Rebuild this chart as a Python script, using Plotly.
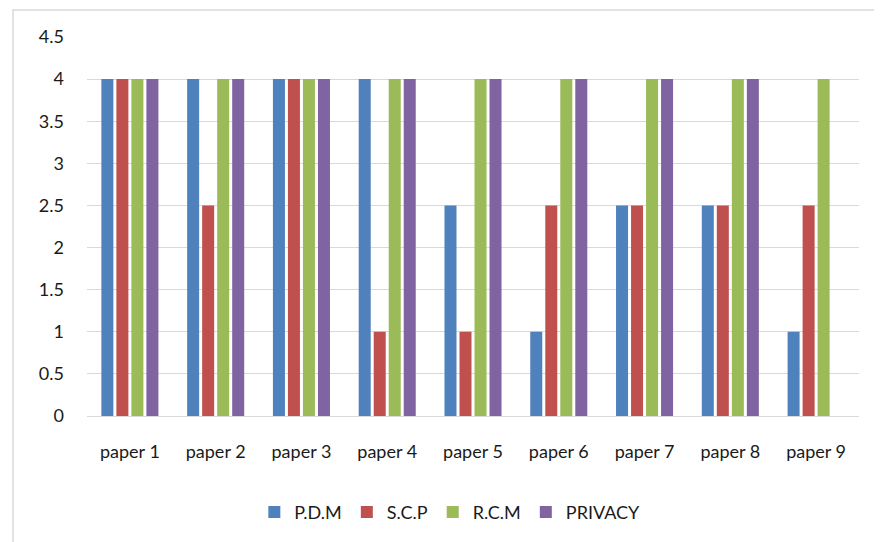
import plotly.graph_objects as go

categories = ["paper 1", "paper 2", "paper 3", "paper 4", "paper 5",
              "paper 6", "paper 7", "paper 8", "paper 9"]
pdm = [4, 4, 4, 4, 2.5, 1, 2.5, 2.5, 1]
scp = [4, 2.5, 4, 1, 1, 2.5, 2.5, 2.5, 2.5]
rcm = [4, 4, 4, 4, 4, 4, 4, 4, 4]
privacy = [4, 4, 4, 4, 4, 4, 4, 4, None]

series = [("P.D.M", pdm, "#4F81BD"), ("S.C.P", scp, "#C0504D"),
          ("R.C.M", rcm, "#9BBB59"), ("PRIVACY", privacy, "#8064A2")]

fig = go.Figure()
for name, vals, color in series:
    fig.add_trace(go.Bar(x=categories, y=vals, name=name, marker_color=color,
                         marker_line_width=0))

font = "Lato, 'Open Sans', sans-serif"
fig.update_layout(
    width=882, height=542,
    margin=dict(l=79, r=31, t=29, b=134),
    paper_bgcolor="white", plot_bgcolor="white",
    barmode="group", bargap=0.30, bargroupgap=0.2,
    font=dict(family=font, size=18, color="#1a1a1a"),
    xaxis=dict(showgrid=False, showline=False, ticks="", tickfont=dict(size=18),
               ticklabelstandoff=23),
    yaxis=dict(range=[0, 4.5], dtick=0.5, showgrid=True, gridcolor="#D9D9D9",
               gridwidth=1.3, zeroline=True, zerolinecolor="#D9D9D9",
               zerolinewidth=1.3, ticks="", tickfont=dict(size=18),
               ticklabelstandoff=22),
    legend=dict(orientation="h", x=0.47, xanchor="center", y=-0.205,
                yanchor="top", font=dict(size=18), itemwidth=30,
                traceorder="normal"),
    showlegend=True,
    shapes=[dict(type="rect", xref="paper", yref="paper",
                 x0=(13 - 87) / 772, x1=1.2, y0=-0.5, y1=1 + 27 / 379,
                 line=dict(color="#D9D9D9", width=1.5), fillcolor="rgba(0,0,0,0)",
                 layer="below")],
)
fig.write_html("out.html")
